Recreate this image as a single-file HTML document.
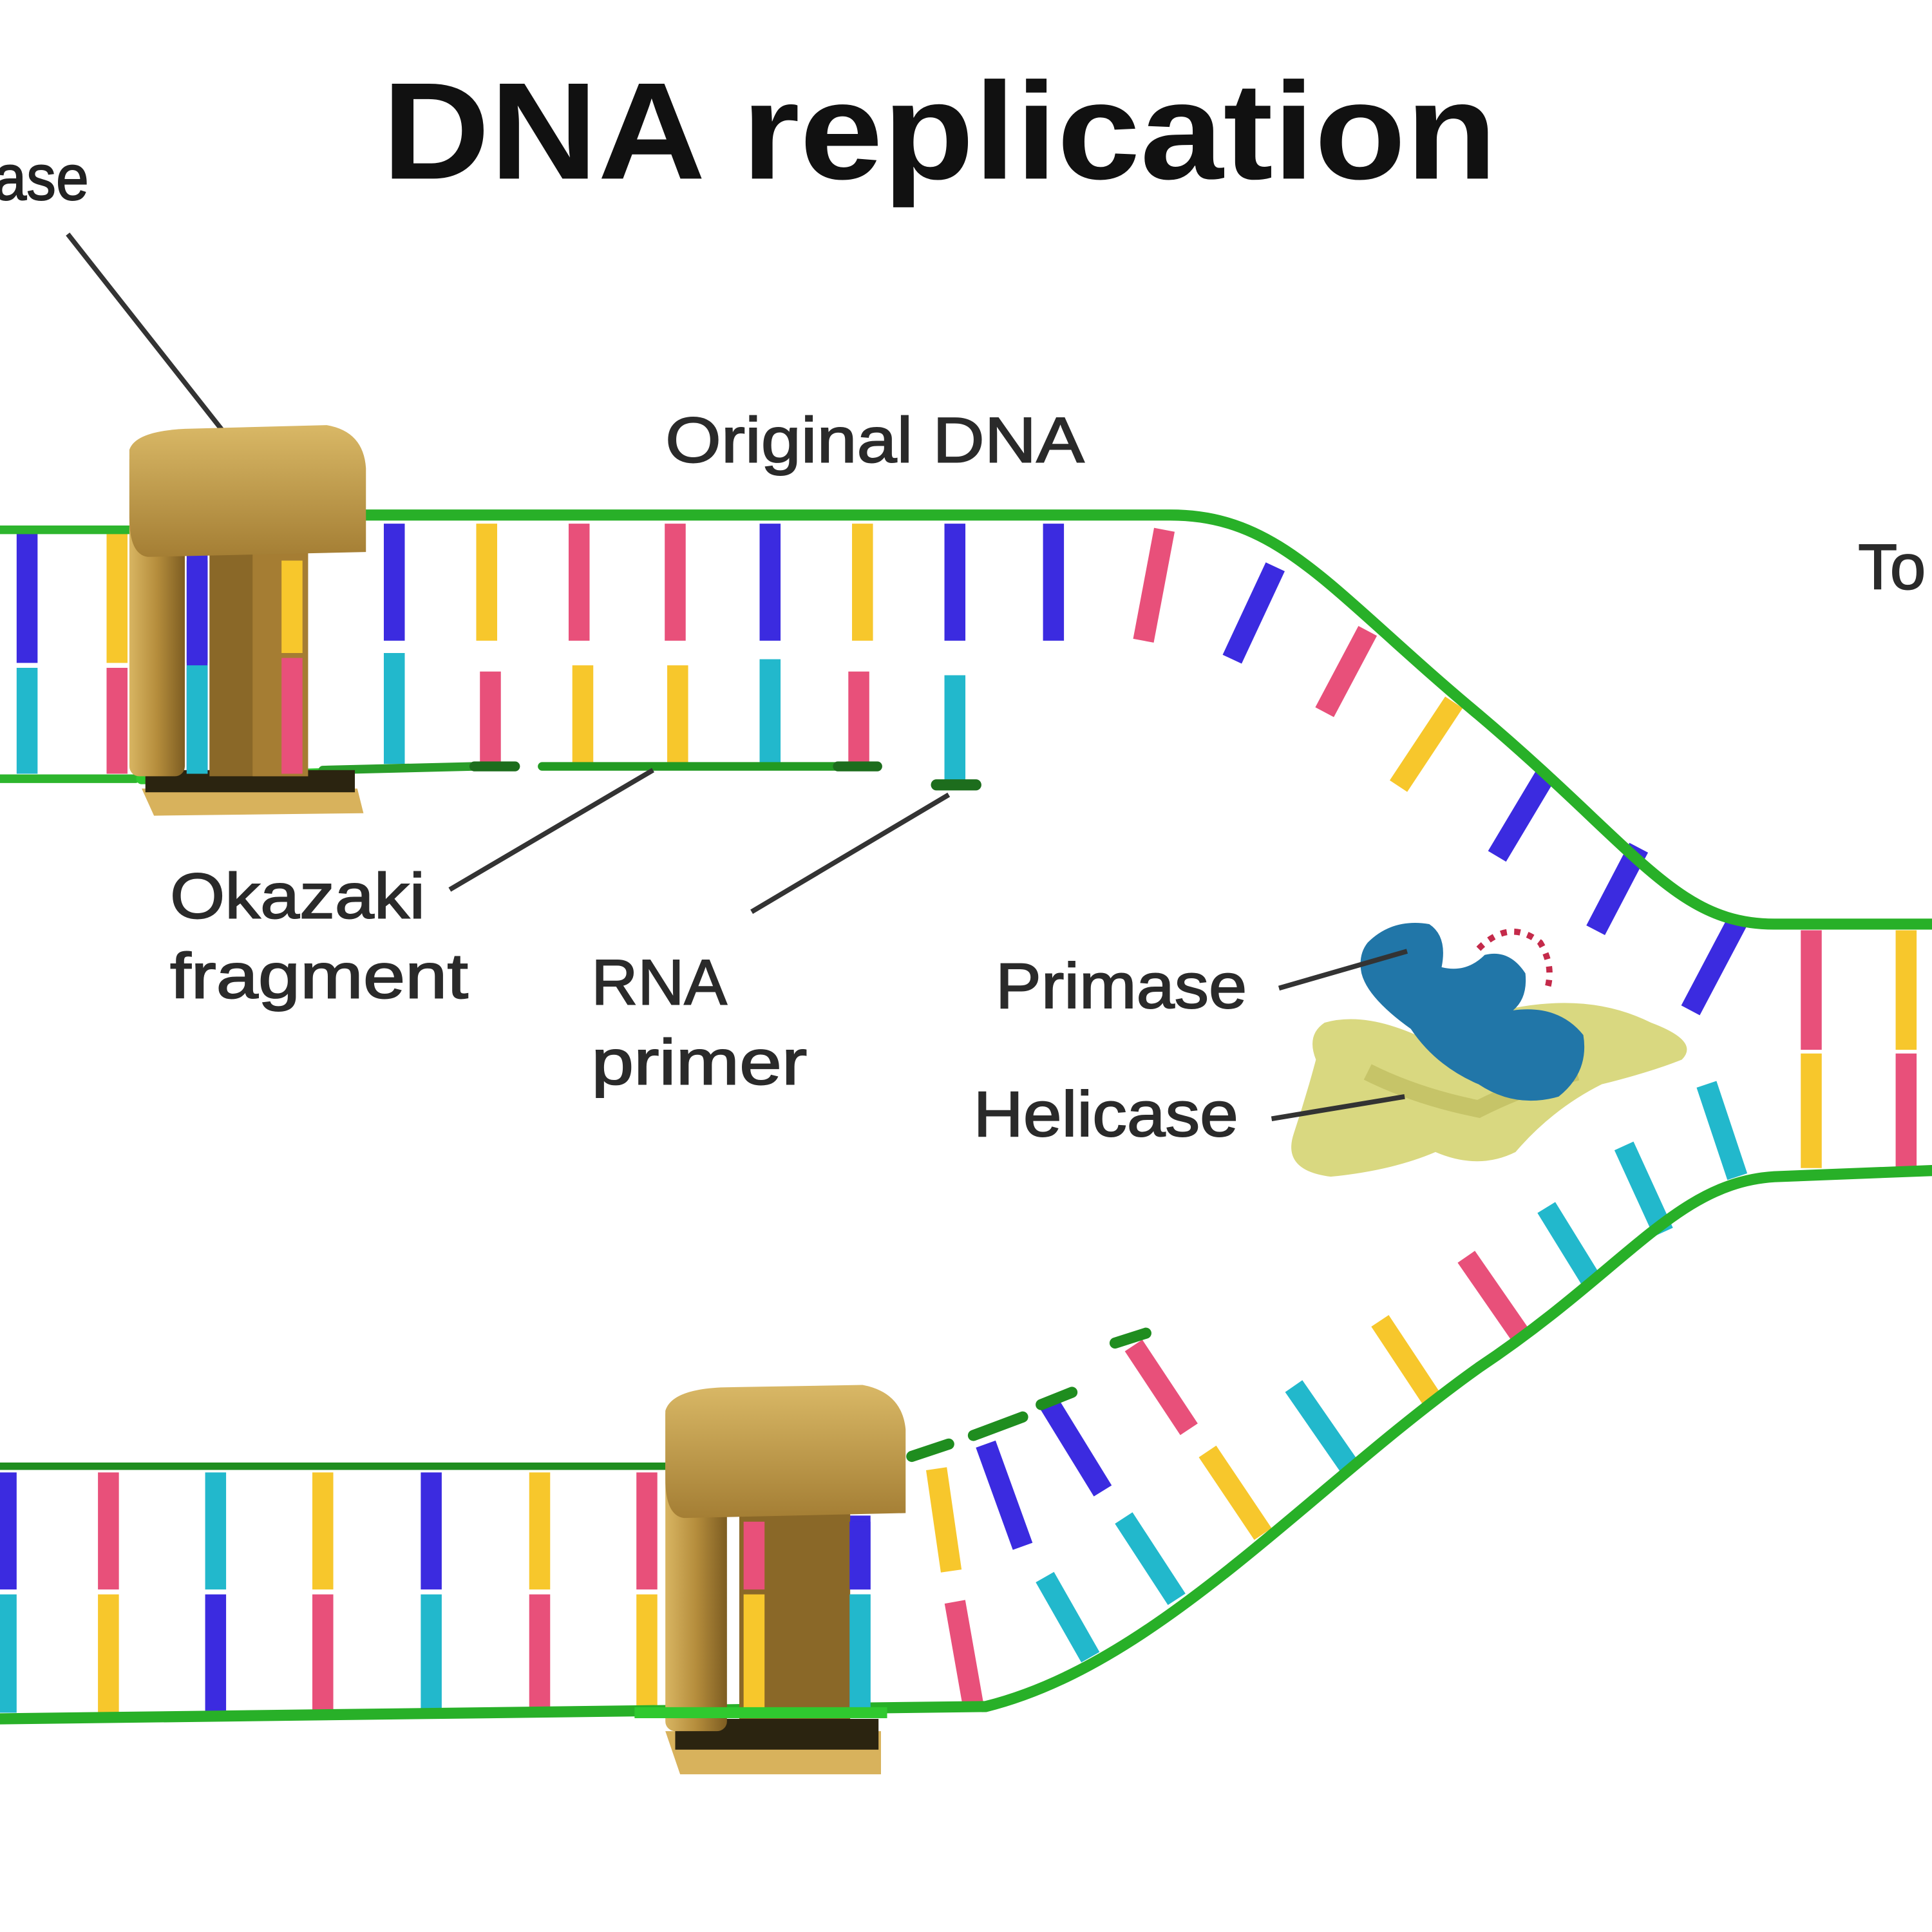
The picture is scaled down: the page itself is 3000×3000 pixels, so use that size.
<!DOCTYPE html>
<html><head><meta charset="utf-8"><style>
html,body{margin:0;padding:0;background:#fff}
svg{display:block}
text{font-family:"Liberation Sans",sans-serif}
</style></head><body>
<svg width="3000" height="3000" viewBox="0 0 1568 1568" xmlns="http://www.w3.org/2000/svg">
<defs>
<linearGradient id="gold" x1="0" y1="0" x2="1" y2="0">
<stop offset="0" stop-color="#d8b562"/><stop offset="0.5" stop-color="#b58d3c"/><stop offset="1" stop-color="#7d5d22"/>
</linearGradient>
<linearGradient id="goldv" x1="0" y1="0" x2="0" y2="1">
<stop offset="0" stop-color="#d9b866"/><stop offset="1" stop-color="#a47e34"/>
</linearGradient>
</defs>
<rect width="1568" height="1568" fill="#fff"/>

<!-- Title -->
<text x="310" y="145" font-size="112" font-weight="bold" fill="#111" textLength="905" lengthAdjust="spacingAndGlyphs">DNA replication</text>
<text x="-5" y="162" font-size="52" fill="#222" stroke="#222" stroke-width="1" textLength="77" lengthAdjust="spacingAndGlyphs">ase</text>
<line x1="55" y1="190" x2="185" y2="355" stroke="#333" stroke-width="4"/>

<!-- Top duplex rungs -->
<g stroke-width="17" stroke-linecap="butt">
<line x1="22" y1="432" x2="22" y2="538" stroke="#3b2be0"/><line x1="22" y1="542" x2="22" y2="628" stroke="#22b8cc"/>
<line x1="95" y1="432" x2="95" y2="538" stroke="#f7c72c"/><line x1="95" y1="542" x2="95" y2="628" stroke="#e8507a"/>
<line x1="160" y1="432" x2="160" y2="538" stroke="#3b2be0"/><line x1="160" y1="542" x2="160" y2="628" stroke="#22b8cc"/>
<line x1="237" y1="432" x2="237" y2="530" stroke="#f7c72c"/><line x1="237" y1="534" x2="237" y2="628" stroke="#e8507a"/>
<line x1="320" y1="425" x2="320" y2="520" stroke="#3b2be0"/><line x1="320" y1="530" x2="320" y2="620" stroke="#22b8cc"/>
<line x1="395" y1="425" x2="395" y2="520" stroke="#f7c72c"/><line x1="398" y1="545" x2="398" y2="620" stroke="#e8507a"/>
<line x1="470" y1="425" x2="470" y2="520" stroke="#e8507a"/><line x1="473" y1="540" x2="473" y2="620" stroke="#f7c72c"/>
<line x1="548" y1="425" x2="548" y2="520" stroke="#e8507a"/><line x1="550" y1="540" x2="550" y2="620" stroke="#f7c72c"/>
<line x1="625" y1="425" x2="625" y2="520" stroke="#3b2be0"/><line x1="625" y1="535" x2="625" y2="620" stroke="#22b8cc"/>
<line x1="700" y1="425" x2="700" y2="520" stroke="#f7c72c"/><line x1="697" y1="545" x2="697" y2="620" stroke="#e8507a"/>
<line x1="775" y1="425" x2="775" y2="520" stroke="#3b2be0"/><line x1="775" y1="548" x2="775" y2="635" stroke="#22b8cc"/>
<line x1="855" y1="425" x2="855" y2="520" stroke="#3b2be0"/>
<line x1="945" y1="430" x2="928" y2="520" stroke="#e8507a"/>
<line x1="1035" y1="460" x2="1000" y2="535" stroke="#3b2be0"/>
<line x1="1110" y1="512" x2="1075" y2="578" stroke="#e8507a"/>
<line x1="1180" y1="570" x2="1135" y2="638" stroke="#f7c72c"/>
<line x1="1255" y1="628" x2="1215" y2="695" stroke="#3b2be0"/>
<line x1="1330" y1="688" x2="1295" y2="755" stroke="#3b2be0"/>
<line x1="1410" y1="748" x2="1372" y2="820" stroke="#3b2be0"/>
<line x1="1470" y1="755" x2="1470" y2="852" stroke="#e8507a"/><line x1="1470" y1="855" x2="1470" y2="948" stroke="#f7c72c"/>
<line x1="1547" y1="755" x2="1547" y2="852" stroke="#f7c72c"/><line x1="1547" y1="855" x2="1547" y2="948" stroke="#e8507a"/>
<line x1="1410" y1="955" x2="1385" y2="880" stroke="#22b8cc"/>
<line x1="1350" y1="1000" x2="1318" y2="930" stroke="#22b8cc"/>
<line x1="1292" y1="1040" x2="1255" y2="980" stroke="#22b8cc"/>
<line x1="1235" y1="1085" x2="1190" y2="1020" stroke="#e8507a"/>
<line x1="1165" y1="1140" x2="1120" y2="1072" stroke="#f7c72c"/>
<line x1="1095" y1="1190" x2="1050" y2="1125" stroke="#22b8cc"/>
<line x1="1025" y1="1245" x2="980" y2="1178" stroke="#f7c72c"/>
<line x1="955" y1="1298" x2="912" y2="1232" stroke="#22b8cc"/>
<line x1="885" y1="1345" x2="848" y2="1280" stroke="#22b8cc"/>
<line x1="790" y1="1385" x2="775" y2="1300" stroke="#e8507a"/>
<line x1="920" y1="1092" x2="965" y2="1160" stroke="#e8507a"/>
<line x1="852" y1="1140" x2="895" y2="1210" stroke="#3b2be0"/>
<line x1="800" y1="1172" x2="830" y2="1255" stroke="#3b2be0"/>
<line x1="760" y1="1192" x2="772" y2="1275" stroke="#f7c72c"/>
<line x1="5" y1="1195" x2="5" y2="1290" stroke="#3b2be0"/><line x1="5" y1="1294" x2="5" y2="1390" stroke="#22b8cc"/>
<line x1="88" y1="1195" x2="88" y2="1290" stroke="#e8507a"/><line x1="88" y1="1294" x2="88" y2="1390" stroke="#f7c72c"/>
<line x1="175" y1="1195" x2="175" y2="1290" stroke="#22b8cc"/><line x1="175" y1="1294" x2="175" y2="1390" stroke="#3b2be0"/>
<line x1="262" y1="1195" x2="262" y2="1290" stroke="#f7c72c"/><line x1="262" y1="1294" x2="262" y2="1390" stroke="#e8507a"/>
<line x1="350" y1="1195" x2="350" y2="1290" stroke="#3b2be0"/><line x1="350" y1="1294" x2="350" y2="1390" stroke="#22b8cc"/>
<line x1="438" y1="1195" x2="438" y2="1290" stroke="#f7c72c"/><line x1="438" y1="1294" x2="438" y2="1390" stroke="#e8507a"/>
<line x1="525" y1="1195" x2="525" y2="1290" stroke="#e8507a"/><line x1="525" y1="1294" x2="525" y2="1390" stroke="#f7c72c"/>
<line x1="698" y1="1230" x2="698" y2="1290" stroke="#3b2be0"/><line x1="698" y1="1294" x2="698" y2="1390" stroke="#22b8cc"/>
</g>

<!-- Strands -->
<g fill="none" stroke-linecap="round">
<path d="M0 430 L110 430" stroke="#2db52d" stroke-width="7"/>
<path d="M295 418 L950 418 C1040 418 1080 480 1200 580 C1330 690 1360 750 1440 750 L1568 750" stroke="#28b028" stroke-width="9"/>
<path d="M0 632 L110 632" stroke="#2db52d" stroke-width="7"/>
<path d="M115 632 L260 628" stroke="#2fc92f" stroke-width="9"/>
<path d="M262 625 L385 622" stroke="#2a9e2a" stroke-width="7"/>
<path d="M385 622 L418 622" stroke="#1d6d1d" stroke-width="8"/>
<path d="M440 622 L680 622" stroke="#229a22" stroke-width="7"/>
<path d="M680 622 L712 622" stroke="#1d6d1d" stroke-width="8"/>
<path d="M760 637 L792 637" stroke="#1d6d1d" stroke-width="9"/>
<path d="M1568 950 L1440 955 C1360 960 1320 1030 1200 1110 C1060 1210 940 1350 800 1385 L0 1395" stroke="#28b028" stroke-width="9"/>
<path d="M0 1190 L550 1190" stroke="#1f8d1f" stroke-width="6"/>
<path d="M740 1182 L770 1172 M790 1165 L830 1150 M845 1140 L870 1130 M905 1090 L930 1082" stroke="#1f8d1f" stroke-width="9"/>
</g>

<!-- Top polymerase -->
<polygon points="115,640 290,640 295,660 125,662" fill="#d8b25c"/>
<rect x="118" y="625" width="170" height="18" fill="#2b2410"/>
<rect x="105" y="365" width="45" height="265" rx="8" fill="url(#gold)"/>
<rect x="170" y="440" width="80" height="190" fill="#8a6828"/>
<rect x="205" y="440" width="45" height="190" fill="#a57d33"/>
<path d="M105 365 Q110 350 150 348 L265 345 Q295 350 297 380 L297 448 L120 452 Q105 450 105 420 Z" fill="url(#goldv)"/>
<line x1="160" y1="455" x2="160" y2="628" stroke="#3b2be0" stroke-width="17"/>
<line x1="160" y1="540" x2="160" y2="628" stroke="#22b8cc" stroke-width="17"/>
<line x1="237" y1="455" x2="237" y2="530" stroke="#f7c72c" stroke-width="17"/>
<line x1="237" y1="534" x2="237" y2="628" stroke="#e8507a" stroke-width="17"/>

<!-- Bottom polymerase -->
<polygon points="540,1405 715,1405 715,1440 552,1440" fill="#d8b25c"/>
<rect x="548" y="1395" width="165" height="25" fill="#2b2410"/>
<rect x="540" y="1140" width="50" height="265" rx="8" fill="url(#gold)"/>
<rect x="600" y="1225" width="90" height="170" fill="#8a6828"/>
<path d="M540 1145 Q545 1128 585 1126 L700 1124 Q732 1130 735 1160 L735 1228 L555 1232 Q540 1230 540 1200 Z" fill="url(#goldv)"/>
<line x1="612" y1="1235" x2="612" y2="1290" stroke="#e8507a" stroke-width="17"/>
<line x1="612" y1="1294" x2="612" y2="1390" stroke="#f7c72c" stroke-width="17"/>
<line x1="698" y1="1235" x2="698" y2="1290" stroke="#3b2be0" stroke-width="17"/>
<line x1="698" y1="1294" x2="698" y2="1390" stroke="#22b8cc" stroke-width="17"/>
<path d="M515 1390 L720 1390" stroke="#2fc92f" stroke-width="9"/>

<!-- Helicase -->
<path d="M1075 830 Q1110 820 1160 845 Q1200 820 1250 815 Q1300 810 1340 830 Q1380 845 1365 860 Q1340 870 1300 880 Q1260 900 1230 935 Q1200 950 1165 935 Q1130 950 1080 955 Q1040 950 1050 920 Q1060 890 1068 860 Q1060 840 1075 830 Z" fill="#d9d880"/>
<path d="M1110 870 Q1150 890 1200 900 Q1240 880 1280 870" fill="none" stroke="#c6c468" stroke-width="14"/>
<!-- Primase -->
<path d="M1110 765 Q1130 745 1160 750 Q1175 760 1170 785 Q1190 790 1205 775 Q1225 770 1238 790 Q1240 810 1228 820 Q1265 815 1285 840 Q1290 870 1265 890 Q1230 900 1200 880 Q1165 865 1145 835 Q1110 810 1105 790 Q1102 775 1110 765 Z" fill="#2176a8"/>
<path d="M1200 770 Q1225 745 1250 765 Q1262 785 1255 805" fill="none" stroke="#c42a4a" stroke-width="5" stroke-dasharray="5 6"/>

<!-- Labels -->
<g font-size="52" fill="#2a2a2a" stroke="#2a2a2a" stroke-width="1" lengthAdjust="spacingAndGlyphs">
<text x="540" y="375" textLength="340" lengthAdjust="spacingAndGlyphs">Original DNA</text>
<text x="1508" y="478">To</text>
<text x="138" y="745" textLength="207" lengthAdjust="spacingAndGlyphs">Okazaki</text>
<text x="138" y="810" textLength="242" lengthAdjust="spacingAndGlyphs">fragment</text>
<text x="480" y="815" textLength="110" lengthAdjust="spacingAndGlyphs">RNA</text>
<text x="480" y="880" textLength="175" lengthAdjust="spacingAndGlyphs">primer</text>
<text x="808" y="818" textLength="204" lengthAdjust="spacingAndGlyphs">Primase</text>
<text x="790" y="922" textLength="215" lengthAdjust="spacingAndGlyphs">Helicase</text>
</g>
<g stroke="#333" stroke-width="4">
<line x1="365" y1="722" x2="530" y2="625"/>
<line x1="610" y1="740" x2="770" y2="645"/>
<line x1="1038" y1="802" x2="1142" y2="772"/>
<line x1="1032" y1="908" x2="1140" y2="890"/>
</g>
</svg>
</body></html>
